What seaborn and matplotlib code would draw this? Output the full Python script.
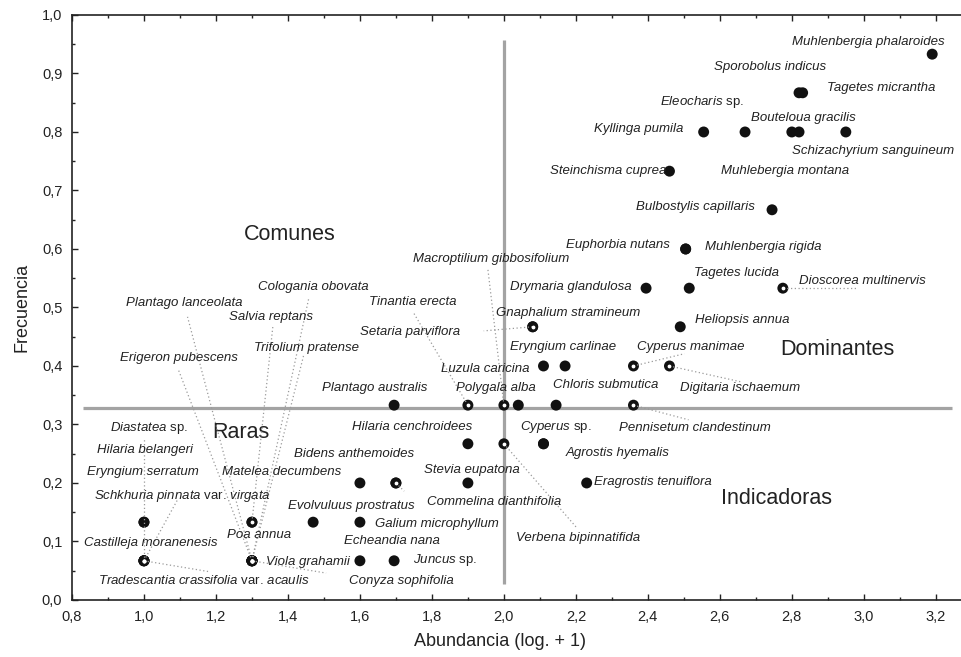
import matplotlib
matplotlib.use("Agg")
import matplotlib.pyplot as plt
import matplotlib.ticker as mticker
import pandas as pd
import seaborn as sns

# Species, abundance (log + 1) and frequency
species = [
    "Muhlenbergia phalaroides", "Sporobolus indicus", "Tagetes micrantha",
    "Eleocharis sp.", "Bouteloua gracilis", "Kyllinga pumila",
    "Schizachyrium sanguineum", "Muhlebergia montana", "Steinchisma cuprea",
    "Bulbostylis capillaris", "Euphorbia nutans", "Muhlenbergia rigida",
    "Tagetes lucida", "Dioscorea multinervis", "Drymaria glandulosa",
    "Heliopsis annua", "Gnaphalium stramineum", "Setaria parviflora",
    "Macroptilium gibbosifolium", "Tinantia erecta", "Luzula caricina",
    "Eryngium carlinae", "Polygala alba", "Chloris submutica",
    "Cyperus manimae", "Digitaria ischaemum", "Plantago australis",
    "Pennisetum clandestinum", "Hilaria cenchroidees", "Cyperus sp.",
    "Agrostis hyemalis", "Verbena bipinnatifida", "Bidens anthemoides",
    "Stevia eupatona", "Eragrostis tenuiflora", "Commelina dianthifolia",
    "Matelea decumbens", "Evolvuluus prostratus", "Galium microphyllum",
    "Echeandia nana", "Juncus sp.", "Conyza sophifolia", "Viola grahamii",
    "Poa annua", "Tradescantia crassifolia var. acaulis",
    "Castilleja moranenesis", "Schkhuria pinnata var. virgata",
    "Eryngium serratum", "Hilaria belangeri", "Diastatea sp.",
    "Erigeron pubescens", "Plantago lanceolata", "Salvia reptans",
    "Cologania obovata", "Trifolium pratense",
]
abundancia = [
    3.19, 2.82, 2.83, 2.67, 2.80, 2.555, 2.95, 2.82, 2.46, 2.745,
    2.505, 2.505, 2.515, 2.775, 2.395, 2.49, 2.08, 2.08, 2.0, 1.9,
    2.11, 2.17, 2.04, 2.145, 2.36, 2.46, 1.695, 2.36, 1.9, 2.11,
    2.11, 2.0, 1.7, 1.9, 2.23, 1.7, 1.6, 1.47, 1.6, 1.6,
    1.695, 1.3, 1.3, 1.3, 1.0, 1.0, 1.0, 1.0, 1.0, 1.0,
    1.3, 1.3, 1.3, 1.3, 1.3,
]
frecuencia = [
    0.933, 0.867, 0.867, 0.8, 0.8, 0.8, 0.8, 0.8, 0.733, 0.667,
    0.6, 0.6, 0.533, 0.533, 0.533, 0.467, 0.467, 0.467, 0.333, 0.333,
    0.4, 0.4, 0.333, 0.333, 0.4, 0.4, 0.333, 0.333, 0.267, 0.267,
    0.267, 0.267, 0.2, 0.2, 0.2, 0.2, 0.2, 0.133, 0.133, 0.067,
    0.067, 0.067, 0.067, 0.133, 0.067, 0.067, 0.067, 0.133, 0.133, 0.067,
    0.067, 0.067, 0.133, 0.067, 0.067,
]

# where each name is written (left edge, vertical centre)
label_x = [
    2.800, 2.585, 2.898, 2.435, 2.686, 2.250, 2.800, 2.602, 2.128, 2.368,
    2.172, 2.560, 2.527, 2.820, 2.016, 2.532, 1.977, 1.601, 1.748, 1.626,
    1.826, 2.016, 1.866, 2.136, 2.370, 2.490, 1.495, 2.320, 1.578, 2.044,
    2.172, 2.033, 1.416, 1.779, 2.250, 1.785, 1.216, 1.400, 1.642, 1.556,
    1.748, 1.570, 1.338, 1.232, 0.873, 0.833, 0.861, 0.842, 0.870, 0.906,
    0.934, 0.951, 1.235, 1.316, 1.305,
]
label_y = [
    0.954, 0.911, 0.875, 0.851, 0.824, 0.805, 0.768, 0.733, 0.733, 0.672,
    0.607, 0.603, 0.559, 0.545, 0.535, 0.479, 0.491, 0.458, 0.583, 0.509,
    0.395, 0.432, 0.362, 0.368, 0.432, 0.362, 0.362, 0.294, 0.296, 0.296,
    0.251, 0.106, 0.250, 0.222, 0.202, 0.168, 0.219, 0.161, 0.130, 0.101,
    0.068, 0.032, 0.065, 0.111, 0.034, 0.097, 0.178, 0.219, 0.256, 0.294,
    0.414, 0.508, 0.484, 0.535, 0.431,
]

# dotted leader lines: species -> far end of the line
leaders = {
    "Dioscorea multinervis": (2.984, 0.533),
    "Macroptilium gibbosifolium": (1.955, 0.568),
    "Tinantia erecta": (1.748, 0.492),
    "Setaria parviflora": (1.944, 0.460),
    "Cyperus manimae": (2.502, 0.421),
    "Digitaria ischaemum": (2.658, 0.373),
    "Pennisetum clandestinum": (2.513, 0.308),
    "Commelina dianthifolia": (1.723, 0.186),
    "Verbena bipinnatifida": (2.203, 0.123),
    "Conyza sophifolia": (1.506, 0.046),
    "Tradescantia crassifolia var. acaulis": (1.185, 0.048),
    "Schkhuria pinnata var. virgata": (1.093, 0.171),
    "Diastatea sp.": (1.0, 0.277),
    "Erigeron pubescens": (1.096, 0.393),
    "Plantago lanceolata": (1.121, 0.484),
    "Salvia reptans": (1.358, 0.467),
    "Cologania obovata": (1.458, 0.516),
    "Trifolium pratense": (1.444, 0.419),
}

umbral_x = 2.0
umbral_y = 0.328

cuadrantes = ["Comunes", "Raras", "Dominantes", "Indicadoras"]
cuadrante_pos = [(1.277, 0.624), (1.191, 0.287), (2.767, 0.429), (2.602, 0.174)]

df = pd.DataFrame({"especie": species, "abundancia": abundancia,
                   "frecuencia": frecuencia})

sns.set_style("ticks")
plt.rcParams["font.family"] = ["Liberation Sans", "DejaVu Sans"]
plt.rcParams["mathtext.fontset"] = "custom"
plt.rcParams["mathtext.it"] = "Liberation Sans:italic"
plt.rcParams["mathtext.rm"] = "Liberation Sans"


def fmt(name):
    # italic names, but 'sp.' and 'var.' upright
    words = name.split()
    if "sp." not in words and "var." not in words:
        return name, "italic"
    parts, run = [], []
    for w in words:
        if w in ("sp.", "var."):
            if run:
                parts.append(r"$\mathit{" + r"\ ".join(run) + "}$")
                run = []
            parts.append(w)
        else:
            run.append(w)
    if run:
        parts.append(r"$\mathit{" + r"\ ".join(run) + "}$")
    return " ".join(parts), "normal"


fig = plt.figure(figsize=(9.61, 6.57), dpi=100)
ax = fig.add_axes([0.0749, 0.0868, 0.9251, 0.8904])

# quadrant division lines
ax.plot([0.83, 3.245], [umbral_y, umbral_y], color="#a3a3a3", lw=2.3, zorder=2,
        solid_capstyle="butt")
ax.plot([umbral_x, umbral_x], [0.028, 0.957], color="#a3a3a3", lw=2.3, zorder=2,
        solid_capstyle="butt")

sns.scatterplot(data=df, x="abundancia", y="frecuencia", color="#111111",
                s=62, edgecolor="none", ax=ax, zorder=3, legend=False)

for name, ax_, fy, lx, ly in zip(species, abundancia, frecuencia, label_x, label_y):
    txt, style = fmt(name)
    ax.text(lx, ly, txt, fontsize=9.5, style=style, ha="left", va="center",
            color="#222222", zorder=6)
    if name in leaders:
        sx, sy = leaders[name]
        ax.plot([ax_, sx], [fy, sy], color="#9a9a9a", lw=0.9,
                ls=(0, (1, 2)), zorder=4)
        ax.scatter([ax_], [fy], s=3, color="white", zorder=5)

for q, (qx, qy) in zip(cuadrantes, cuadrante_pos):
    ax.text(qx, qy, q, fontsize=15.5, ha="left", va="center", color="#222222")

ax.set_xlim(0.8, 3.27)
ax.set_ylim(0.0, 1.0)
ax.xaxis.set_major_locator(mticker.MultipleLocator(0.2))
ax.xaxis.set_minor_locator(mticker.MultipleLocator(0.1))
ax.yaxis.set_major_locator(mticker.MultipleLocator(0.1))
ax.yaxis.set_minor_locator(mticker.MultipleLocator(0.05))
coma = mticker.FuncFormatter(lambda v, p: f"{v:.1f}".replace(".", ","))
ax.xaxis.set_major_formatter(coma)
ax.yaxis.set_major_formatter(coma)
ax.tick_params(which="both", direction="in", top=True, right=False,
               colors="#222222", labelsize=10.5, width=1)
ax.tick_params(which="major", length=4, pad=7)
ax.tick_params(which="minor", length=2)
for s in ["left", "bottom", "top"]:
    ax.spines[s].set_color("#222222")
    ax.spines[s].set_linewidth(1.2)
ax.spines["right"].set_visible(False)

ax.set_xlabel("Abundancia (log. + 1)", fontsize=13, color="#222222")
ax.set_ylabel("Frecuencia", fontsize=13, color="#222222", labelpad=8)
ax.xaxis.set_label_coords(0.481, -0.056)

fig.savefig("out.png", dpi=100)
